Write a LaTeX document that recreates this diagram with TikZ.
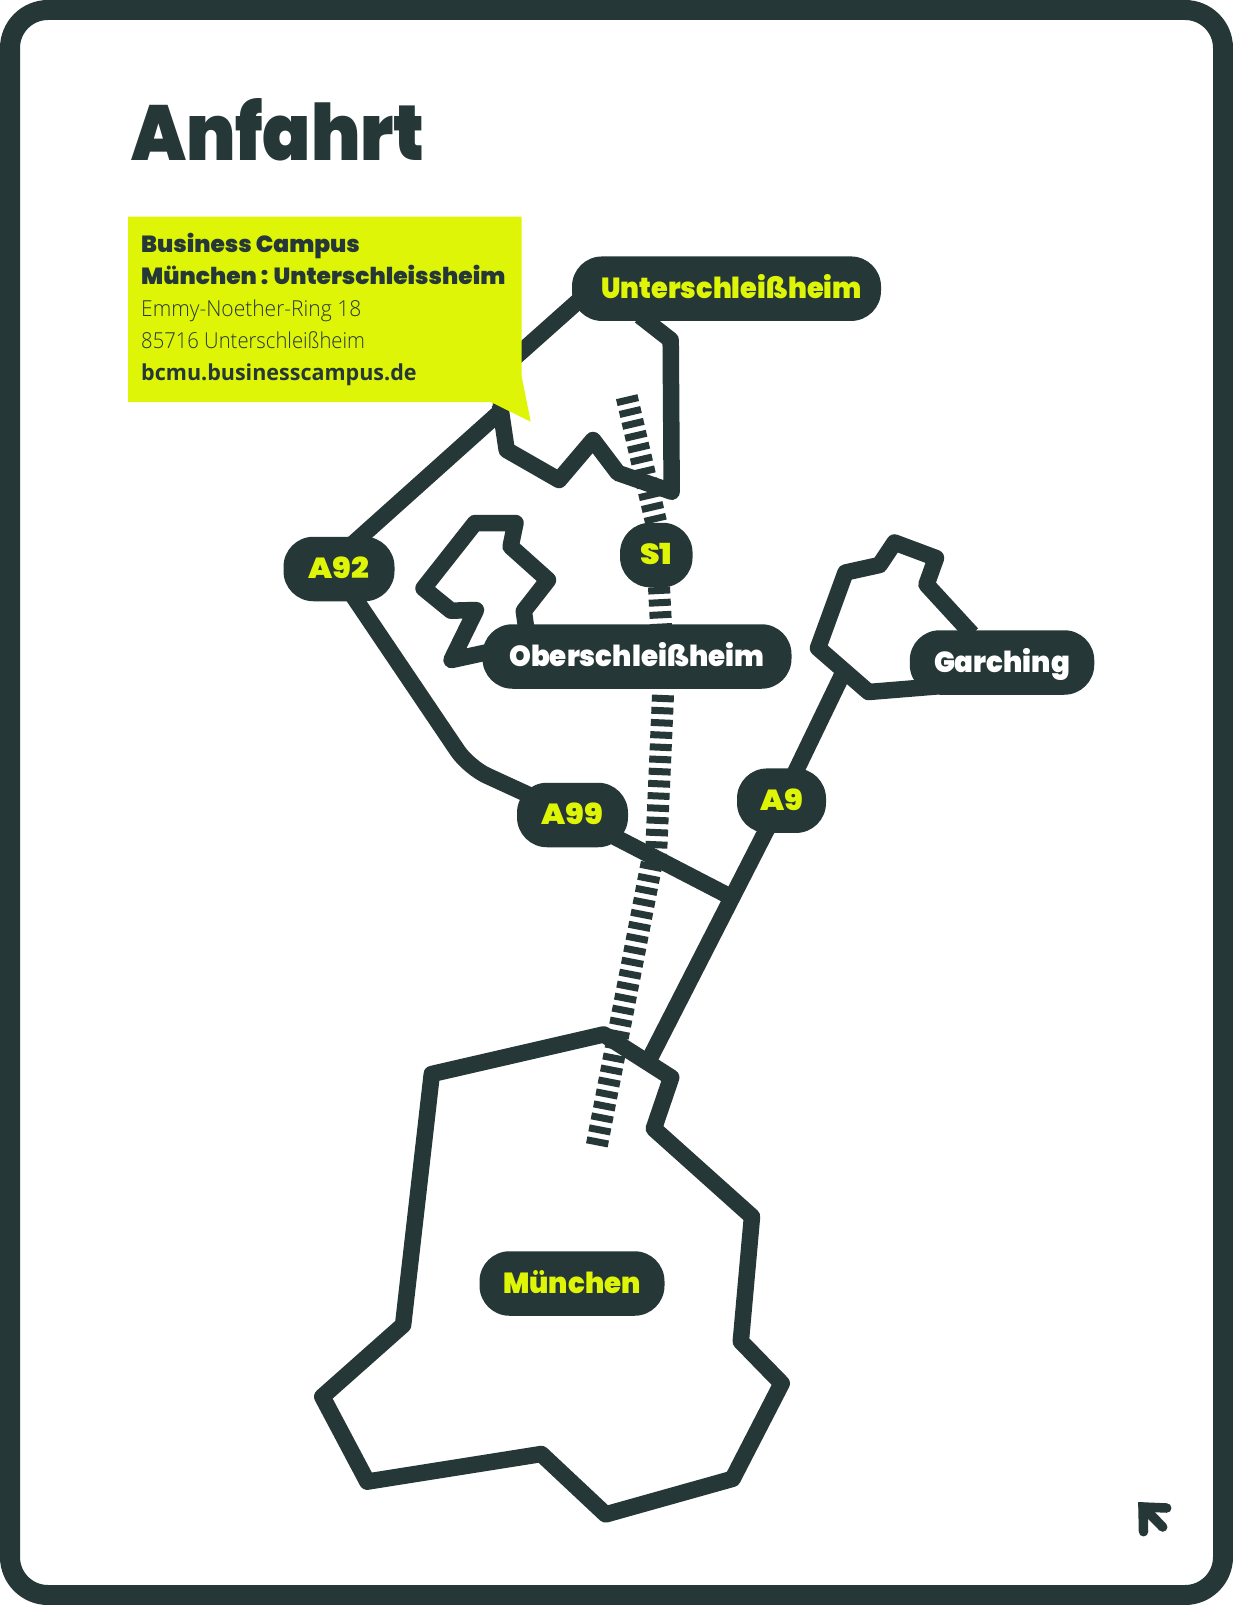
\documentclass[tikz,border=0pt]{standalone}
\usepackage{fontspec}
\setmainfont{Open Sans}
\newfontfamily\heavyf{Poppins}[UprightFont=* Black]
\newfontfamily\titlef{Poppins}[UprightFont=* Black,FakeStretch=0.91]
\newfontfamily\pillf{Poppins}[UprightFont=* Black,FakeStretch=0.955]
\newfontfamily\unterf{Poppins}[UprightFont=* Black,FakeStretch=0.935]
\newfontfamily\shortf{Poppins}[UprightFont=* Black,FakeStretch=1.08]
\newfontfamily\lightaf{Open Sans}[UprightFont=* Light,FakeStretch=0.955]
\newfontfamily\lightbf{Open Sans}[UprightFont=* Light,FakeStretch=0.92]
\newfontfamily\boldf{Open Sans}[UprightFont=* Bold,FakeStretch=0.978]
\definecolor{ink}{HTML}{253737}
\definecolor{lime}{HTML}{DFF508}
\pgfdeclarelayer{paper}
\pgfdeclarelayer{tracks}
\pgfdeclarelayer{roadlayer}
\pgfsetlayers{paper,tracks,roadlayer,main}
\tikzset{
  x=1pt,y=-1pt,
  pill/.style={fill=ink,rounded corners=30pt,inner sep=0pt,minimum height=64.5pt,text height=19pt,text depth=0pt,font=\pillf\fontsize{29}{29}\selectfont},
  limetext/.style={text=lime},
  whitetext/.style={text=white},
  road/.style={draw=ink,line width=16.5pt,line join=round},
  rail/.style={draw=ink,line width=22pt,dash pattern=on 7pt off 5.2pt},
  infotext/.style={anchor=base west,inner sep=0pt,text=ink},
}
\begin{document}
\begin{tikzpicture}
\useasboundingbox (0,0) rectangle (1233,1605);
\begin{pgfonlayer}{paper}
\fill[white] (0,0) rectangle (1233,1605);
\end{pgfonlayer}
\draw[ink,line width=20pt,rounded corners=38pt] (10,10) rectangle (1223,1595);

% title
\node[anchor=base west,inner sep=0pt,text=ink,font=\titlef\fontsize{78}{78}\selectfont] (title) at (131,161) {Anfahrt};

% place labels
\node[pill,limetext,minimum width=309pt] (unter) at (726.5,288.7) {\hspace*{10pt}\unterf Unterschleißheim};
\node[pill,limetext,minimum width=72.5pt] (sone) at (656.3,555) {\shortf S1};
\node[pill,limetext,minimum width=111pt] (afn) at (339,569) {\shortf A92};
\node[pill,whitetext,minimum width=309pt] (ober) at (637,656.5) {Oberschleißheim};
\node[pill,whitetext,minimum width=184.5pt] (garching) at (1002,662.5) {Garching};
\node[pill,limetext,minimum width=111pt] (aninetynine) at (572.5,815) {\shortf A99};
\node[pill,limetext,minimum width=89pt] (anine) at (781.5,800.7) {\shortf A9};
\node[pill,limetext,minimum width=185pt] (muenchen) at (572,1283.5) {München};

% info box
\fill[lime] (128,216.7) -- (521.7,216.7) -- (521.7,376.7) -- (530.7,421.7) -- (490.7,402) -- (128,402) -- cycle;
\node[infotext,font=\heavyf\fontsize{23.3}{23}\selectfont] (l1) at (141,252) {Business Campus};
\node[infotext,font=\heavyf\fontsize{23.3}{23}\selectfont] (l2) at (141,284) {München : Unterschleissheim};
\node[infotext,font=\lightaf\fontsize{22}{22}\selectfont] (l3) at (141,316.7) {Emmy-Noether-Ring 18};
\node[infotext,font=\lightbf\fontsize{22}{22}\selectfont] (l4) at (141,348) {85716 Unterschleißheim};
\node[infotext,font=\boldf\fontsize{22}{22}\selectfont] (l5) at (141,380.7) {bcmu.businesscampus.de};

% arrow
\coordinate (arrcorner) at (1143,1507);
\coordinate (arrtipa) at (1166.7,1508);
\coordinate (arrtipb) at (1143.5,1531.7);
\coordinate (arrend) at (1162.7,1527);
\draw[ink,line width=9.5pt,line cap=round,line join=miter] (arrtipa) -- (arrcorner) -- (arrtipb);
\draw[ink,line width=9.5pt,line cap=round] (arrcorner) -- (arrend);

% S1 track
\begin{pgfonlayer}{tracks}
\coordinate (ta) at (626.7,396.7);
\coordinate (tab) at (656,522);
\coordinate (sa) at (659,587);
\coordinate (sb) at (661,626);
\coordinate (tb) at (663,695);
\coordinate (tc) at (656,856);
\coordinate (td) at (651.7,863);
\coordinate (te) at (596.7,1146);
\draw[rail] (ta) -- (tab);
\draw[rail] (sa) -- (sb);
\draw[rail] (tb) -- (tc);
\draw[rail] (td) -- (te);
\end{pgfonlayer}

% roads and city outlines
\begin{pgfonlayer}{roadlayer}
\coordinate (u0) at (585,295);
\coordinate (u1) at (507,364.5);
\coordinate (u2) at (500,412);
\coordinate (u3) at (346,550);
\draw[road] (u0) -- (u1) -- (u2) -- (u3);
\coordinate (a1) at (345,584);
\coordinate (a2) at (468.7,767.3);
\draw[road,rounded corners=20pt] (a1) -- (a2) -- (aninetynine.center);
\coordinate (j) at (727,895);
\draw[road] (aninetynine.center) -- (j);
\coordinate (g1) at (842,675.3);
\coordinate (m1) at (650,1058);
\draw[road] (g1) -- (anine.center) -- (m1);
% Unterschleissheim
\coordinate (c1) at (640,316);
\coordinate (c2) at (670.7,340);
\coordinate (c3) at (671.7,491.7);
\coordinate (c4) at (618,473);
\coordinate (c5) at (593,440);
\coordinate (c6) at (559,480);
\coordinate (c7) at (506.7,450);
\coordinate (c8) at (500,405);
\draw[road] (c1) -- (c2) -- (c3) -- (c4) -- (c5) -- (c6) -- (c7) -- (c8);
% Oberschleissheim
\draw[road] (527,634) -- (523.8,611) -- (548,580) -- (510.6,546.5) -- (515.5,523) -- (475,523) -- (423.5,588.3) -- (451,610.7) -- (476,610) -- (451.5,660) -- (486,652.5);
% Garching
\draw[road] (972,634) -- (926.5,584.5) -- (936,558) -- (894.5,542.5) -- (879.5,565) -- (845.5,572.5) -- (818,648) -- (868.5,692) -- (936,686.5);
% Muenchen
\draw[road] (431.8,1074) -- (603.7,1034.4) -- (671.2,1077.5) -- (653.8,1128.6) -- (752,1216.6) -- (740.8,1341.4) -- (781.7,1383.4) -- (732.6,1478.8) -- (605.7,1514.4) -- (541.3,1454) -- (367.3,1481.6) -- (322.3,1396.7) -- (403.1,1325) -- cycle;
\end{pgfonlayer}
\end{tikzpicture}
\end{document}
